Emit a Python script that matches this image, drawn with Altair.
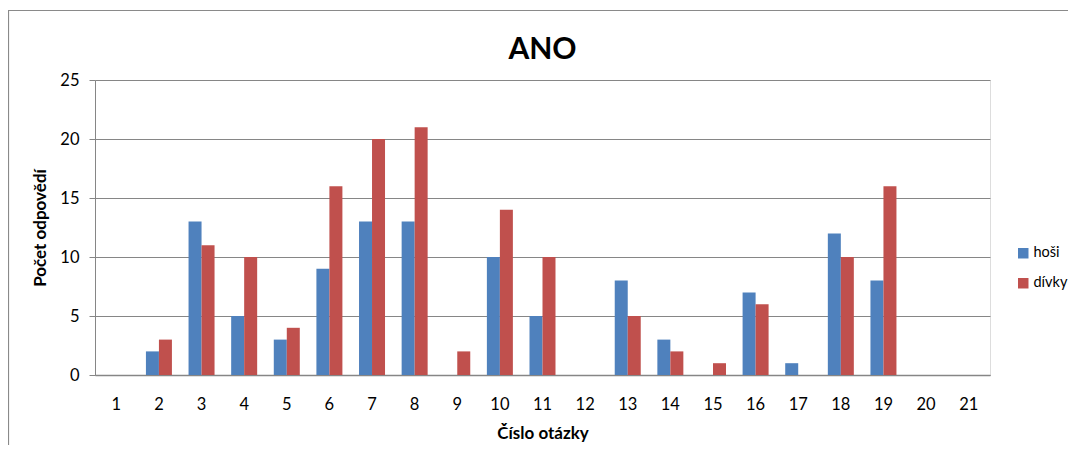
import altair as alt
import pandas as pd

questions = [str(i) for i in range(1, 22)]
hosi = [0, 2, 13, 5, 3, 9, 13, 13, 0, 10, 5, 0, 8, 3, 0, 7, 1, 12, 8, 0, 0]
divky = [0, 3, 11, 10, 4, 16, 20, 21, 2, 14, 10, 0, 5, 2, 1, 6, 0, 10, 16, 0, 0]
series = ["hoši", "dívky"]
colors = ["#4F81BD", "#C0504D"]

rows = []
for q, h, d in zip(questions, hosi, divky):
    rows.append({"q": q, "s": "hoši", "v": h})
    rows.append({"q": q, "s": "dívky", "v": d})
df = pd.DataFrame(rows)

FONT = "Lato"
W, H = 895, 295

bars = alt.Chart(df).mark_bar(size=13).encode(
    x=alt.X("q:O", sort=questions, title="Číslo otázky",
            scale=alt.Scale(paddingInner=0.39, paddingOuter=0.195),
            axis=alt.Axis(labelAngle=0, ticks=False, labelPadding=21, labelFontSize=16.5,
                          labelFont=FONT, labelColor="#000", titleFont=FONT, titleFontSize=17,
                          titleFontWeight="bold", titleColor="#000", titlePadding=13,
                          domainColor="#868686", domainWidth=1.5, grid=False)),
    xOffset=alt.XOffset("s:N", sort=series, scale=alt.Scale(paddingInner=0, paddingOuter=0)),
    y=alt.Y("v:Q", title="Počet odpovědí",
            scale=alt.Scale(domain=[0, 25], nice=False),
            axis=alt.Axis(values=[0, 5, 10, 15, 20, 25], tickSize=6, tickColor="#868686",
                          labelFontSize=16.5, labelFont=FONT, labelColor="#000", labelPadding=10,
                          titleFont=FONT, titleFontSize=17, titleFontWeight="bold",
                          titleColor="#000", titlePadding=10, domainColor="#868686",
                          gridColor="#868686", gridWidth=1)),
    color=alt.Color("s:N", sort=series, scale=alt.Scale(domain=series, range=colors),
                    legend=alt.Legend(title=None, orient="none", legendX=921, legendY=166,
                                      symbolType="square", symbolSize=110, symbolStrokeWidth=0,
                                      labelFont=FONT, labelFontSize=14.5, labelColor="#000",
                                      rowPadding=15, labelOffset=3, labelLimit=200)),
)

frame = alt.Chart(pd.DataFrame({"a": [0]})).mark_rect(
    fill=None, stroke="#8a8a8a", strokeWidth=1.2
).encode(x=alt.value(-86.5), x2=alt.value(1100), y=alt.value(-69.5), y2=alt.value(500))

chart = alt.layer(frame, bars).properties(
    width=W, height=H,
    title=alt.TitleParams("ANO", font=FONT, fontSize=30, fontWeight="bold", color="#000",
                          anchor="middle", offset=-55, frame="group"),
    autosize=alt.AutoSizeParams(type="none"),
    padding={"left": 87, "top": 72, "right": 1060 - 87 - W, "bottom": 70},
).configure_view(stroke=None).configure(background="white")

chart.save("out.html", embed_options={"renderer": "svg", "actions": False})
